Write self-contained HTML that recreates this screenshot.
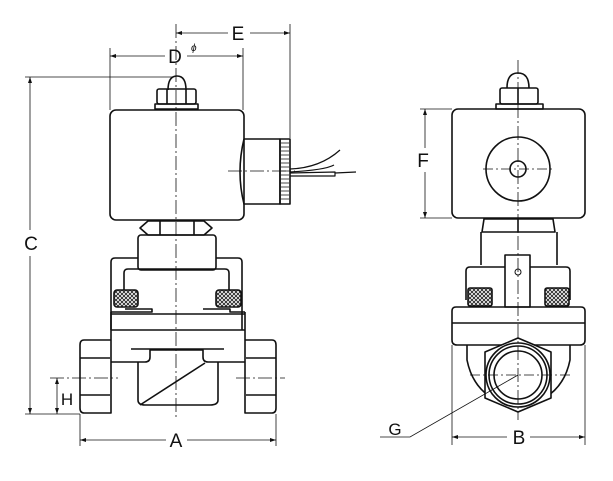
<!DOCTYPE html>
<html><head><meta charset="utf-8"><style>
html,body{margin:0;padding:0;background:#fff}
svg{display:block}
text{font-family:"Liberation Sans",sans-serif;fill:#111}
</style></head><body>
<svg width="613" height="481" viewBox="0 0 613 481" xmlns="http://www.w3.org/2000/svg">
<defs>
<pattern id="hx" width="4" height="4" patternUnits="userSpaceOnUse">
<rect width="4" height="4" fill="#fff"/>
<path d="M0,0L4,4M4,0L0,4" stroke="#222" stroke-width="0.9"/>
</pattern>
</defs>
<g fill="none" stroke="#111" stroke-width="1.6" stroke-linejoin="round">
<!-- LEFT VIEW -->
<path d="M168,90 Q168,76 177,76 Q186,76 186,90"/>
<rect x="157" y="89" width="39" height="15" rx="2"/>
<line x1="167" y1="89" x2="167" y2="104"/><line x1="186" y1="89" x2="186" y2="104"/>
<rect x="155" y="104" width="43" height="5"/>
<rect x="110" y="110" width="134" height="110" rx="6"/>
<path d="M244,139 L280,139 L280,204 L244,204 Q236,172 244,139"/>
<rect x="280" y="139" width="10" height="65"/>
<g stroke-width="0.7"><path d="M281,143H289M281,147H289M281,151H289M281,155H289M281,159H289M281,163H289M281,167H289M281,171H289M281,175H289M281,179H289M281,183H289M281,187H289M281,191H289M281,195H289M281,199H289"/></g>
<path d="M290,169 Q320,168 340,150 M290,172 Q325,170 334,165" stroke-width="1.2"/>
<path d="M290,173 L335,172 L335,176 L290,176 M335,173 L356,172" stroke-width="1.2"/>
<path d="M148,221 L204,221 L212,228 L204,235 L148,235 L140,228 Z"/>
<line x1="160" y1="221" x2="160" y2="235"/><line x1="194" y1="221" x2="194" y2="235"/>
<rect x="138" y="235" width="78" height="35" rx="3"/>
<path d="M111,330 L111,262 Q111,258 115,258 L138,258 M216,258 L238,258 Q242,258 242,262 L242,330"/>
<path d="M124,290 L124,273 Q124,269 128,269 L225,269 Q229,269 229,273 L229,290"/>
<rect x="114" y="290" width="24" height="17" rx="3" fill="url(#hx)"/>
<rect x="216" y="290" width="25" height="17" rx="3" fill="url(#hx)"/>
<path d="M111,312 L152,312 L152,309 L125,309 M203,309 L230,309 L230,312 L245,312"/>
<path d="M111,312 L111,362 M245,312 L245,362 M111,314 L245,314 M111,330 L245,330"/>
<path d="M111,362 L145,362 Q150,362 150,357 L150,350 L203,350 L203,357 Q203,362 208,362 L245,362"/>
<line x1="131" y1="349" x2="224" y2="349"/>
<path d="M138,362 L138,400 Q138,405 145,405 L210,405 Q218,405 218,400 L218,362"/>
<line x1="140" y1="405" x2="205" y2="363"/>
<path d="M111,340 L84,340 Q80,340 80,345 L80,408 Q80,413 84,413 L111,413 L111,362"/>
<line x1="80" y1="358" x2="110" y2="358"/><line x1="80" y1="395" x2="110" y2="395"/>
<path d="M245,340 L272,340 Q276,340 276,345 L276,408 Q276,413 272,413 L245,413 L245,362"/>
<line x1="246" y1="358" x2="276" y2="358"/><line x1="246" y1="395" x2="276" y2="395"/>
<!-- RIGHT VIEW -->
<path d="M507,88 Q507,73 518,73 Q529,73 529,88"/>
<rect x="500" y="88" width="38" height="16" rx="2"/>
<line x1="518" y1="88" x2="518" y2="104"/>
<rect x="496" y="104" width="47" height="5"/>
<rect x="452" y="109" width="133" height="109" rx="6"/>
<circle cx="518" cy="169" r="32"/>
<circle cx="518" cy="169" r="8"/>
<path d="M484,219 L553,219 L555,232 L482,232 Z"/>
<line x1="518" y1="219" x2="518" y2="232"/>
<path d="M481,265 L481,232 M557,232 L557,265"/>
<path d="M466,300 L466,271 Q466,267 470,267 L505,267 M530,267 L566,267 Q570,267 570,271 L570,300"/>
<rect x="505" y="255" width="25" height="52"/>
<circle cx="518" cy="272" r="3" stroke-width="1"/>
<rect x="468" y="288" width="24" height="18" rx="2" fill="url(#hx)"/>
<rect x="545" y="288" width="24" height="18" rx="2" fill="url(#hx)"/>
<path d="M456,307 L581,307 Q585,307 585,311 L585,340 Q585,345 580,345 L457,345 Q452,345 452,340 L452,311 Q452,307 456,307 Z"/>
<line x1="452" y1="323" x2="585" y2="323"/>
<path d="M467,345 L467,360 Q475,400 518,407 Q562,400 570,360 L570,345"/>
<path d="M518,338 L551,352 L551,398 L518,412 L485,398 L485,352 Z" fill="#fff"/>
<circle cx="518" cy="375" r="32"/>
<circle cx="518" cy="375" r="29"/>
<circle cx="518" cy="375" r="24"/>
</g>
<!-- thin lines: dimensions & centers -->
<g fill="none" stroke="#111" stroke-width="0.8">
<line x1="176" y1="24" x2="176" y2="420" stroke-dasharray="14,3,2,3"/>
<line x1="518" y1="60" x2="518" y2="420" stroke-dasharray="14,3,2,3"/>
<line x1="228" y1="171" x2="295" y2="171" stroke-dasharray="14,3,2,3"/>
<line x1="483" y1="169" x2="555" y2="169" stroke-dasharray="10,3,2,3"/>
<line x1="470" y1="375" x2="570" y2="375" stroke-dasharray="10,3,2,3"/>
<line x1="50" y1="378" x2="118" y2="378" stroke-dasharray="14,3,2,3"/>
<line x1="236" y1="378" x2="285" y2="378" stroke-dasharray="14,3,2,3"/>
<!-- E -->
<line x1="290" y1="24" x2="290" y2="138"/>
<line x1="176" y1="33" x2="228" y2="33"/><line x1="250" y1="33" x2="290" y2="33"/>
<!-- D -->
<line x1="110" y1="48" x2="110" y2="110"/><line x1="243" y1="48" x2="243" y2="110"/>
<line x1="110" y1="56" x2="165" y2="56"/><line x1="187" y1="56" x2="243" y2="56"/>
<!-- C -->
<line x1="25" y1="77" x2="172" y2="77"/><line x1="25" y1="414" x2="80" y2="414"/>
<line x1="30" y1="77" x2="30" y2="230"/><line x1="30" y1="256" x2="30" y2="414"/>
<!-- H -->
<line x1="57" y1="378" x2="57" y2="414"/>
<!-- A -->
<line x1="80" y1="414" x2="80" y2="446"/><line x1="276" y1="414" x2="276" y2="446"/>
<line x1="80" y1="440" x2="166" y2="440"/><line x1="187" y1="440" x2="276" y2="440"/>
<!-- F -->
<line x1="420" y1="109" x2="452" y2="109"/><line x1="420" y1="218" x2="452" y2="218"/>
<line x1="425" y1="109" x2="425" y2="148"/><line x1="425" y1="172" x2="425" y2="218"/>
<!-- B -->
<line x1="452" y1="345" x2="452" y2="445"/><line x1="585" y1="345" x2="585" y2="445"/>
<line x1="452" y1="437" x2="507" y2="437"/><line x1="530" y1="437" x2="585" y2="437"/>
<!-- G leader -->
<polyline points="380,437 410,437 518,375"/>
</g>
<g fill="#111" stroke="none">
<path d="M290,33 l-6,-2 v4Z M176,33 l6,-2 v4Z M110,56 l6,-2 v4Z M243,56 l-6,-2 v4Z M30,77 l-2,6 h4Z M30,414 l-2,-6 h4Z M57,378 l-2,6 h4Z M57,414 l-2,-6 h4Z M80,440 l6,-2 v4Z M276,440 l-6,-2 v4Z M425,109 l-2,6 h4Z M425,218 l-2,-6 h4Z M452,437 l6,-2 v4Z M585,437 l-6,-2 v4Z"/>
</g>
<text x="238" y="40" font-size="19" text-anchor="middle">E</text>
<text x="175" y="63" font-size="19" text-anchor="middle">D</text>
<text x="191" y="51" font-size="10" font-style="italic">ϕ</text>
<text x="31" y="250" font-size="19" text-anchor="middle">C</text>
<text x="67" y="405" font-size="17" text-anchor="middle">H</text>
<text x="176" y="447" font-size="19" text-anchor="middle">A</text>
<text x="423" y="167" font-size="19" text-anchor="middle">F</text>
<text x="395" y="435" font-size="17" text-anchor="middle">G</text>
<text x="519" y="444" font-size="19" text-anchor="middle">B</text>
</svg>
</body></html>
